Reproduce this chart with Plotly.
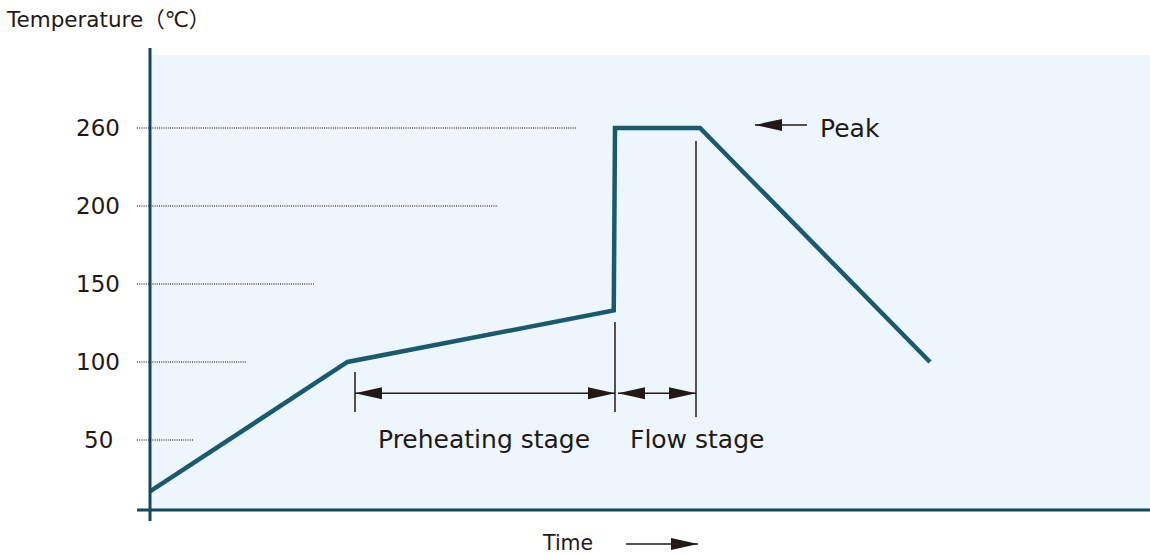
import plotly.graph_objects as go

# ---- data ----
time_s = [0, 79, 185.5, 186, 220, 312]          # time (arbitrary seconds)
temp_c = [17, 100, 133, 260, 260, 100]          # temperature (°C)
tick_temps = [50, 100, 150, 200, 260]
tick_labels = ["50", "100", "150", "200", "260"]
guide_end_time = [17.2, 38.8, 66, 139.2, 170.8]  # end of dotted guide lines (same order as ticks)
preheat_start, preheat_end, flow_end = 82, 186, 218.4
peak_arrow = (242, 262.8)

# schematic axis: above 200 the scale is compressed (260 drawn where 250 would be)
def to_axis(t):
    return t if t <= 200 else 200 + (t - 200) * 50 / 60

CURVE = "#1B5A6D"
AXIS = "#15475A"
INK = "#231815"
FONT = "DejaVu Sans, Noto Sans CJK JP"

fig = go.Figure()
fig.add_trace(go.Scatter(
    x=time_s, y=[to_axis(t) for t in temp_c], mode="lines",
    line=dict(color=CURVE, width=4.5), hoverinfo="skip", showlegend=False,
))

shapes = []
annotations = []

# dotted guides + tick labels
for tv, lab, xe in zip(tick_temps, tick_labels, guide_end_time):
    y = to_axis(tv)
    shapes.append(dict(type="line", xref="paper", yref="y", x0=-0.013, x1=xe / 400,
                       y0=y, y1=y, line=dict(color="#000000", width=1.1, dash="1px,1.2px"), layer="above"))
    annotations.append(dict(text=lab, xref="paper", yref="y", x=-0.052, y=y,
                            xanchor="center", yanchor="middle", showarrow=False,
                            font=dict(size=23, color=INK, family=FONT)))

# axes lines (extend beyond plot area like the drawing)
shapes.append(dict(type="line", xref="paper", yref="paper", x0=0, x1=0, y0=-0.024, y1=1.0154,
                   line=dict(color=AXIS, width=3), layer="above"))
shapes.append(dict(type="line", xref="paper", yref="paper", x0=-0.013, x1=1, y0=0, y1=0,
                   line=dict(color=AXIS, width=3), layer="above"))

# dimension (extension) lines
for xv, ya, yb in [(preheat_start, 68, 93.6), (preheat_end, 68, 125.6), (flow_end, 64.7, 241.7)]:
    shapes.append(dict(type="line", xref="x", yref="y", x0=xv, x1=xv, y0=ya, y1=yb,
                       line=dict(color=INK, width=1.5)))

def head(xref, yref, x, y, direction):
    # filled arrowhead, tip at (x, y), size in pixels
    L, W = 27, 6
    if direction == "left":
        path = f"M0,0 L{L},{-W} L{L},{W} Z"
    else:
        path = f"M0,0 L{-L},{-W} L{-L},{W} Z"
    return dict(type="path", xref=xref, yref=yref, xsizemode="pixel", ysizemode="pixel",
                xanchor=x, yanchor=y, path=path, fillcolor=INK, line=dict(color=INK, width=0))

dim_y = 80
for a, b in [(preheat_start, preheat_end), (preheat_end + 1.2, flow_end)]:
    shapes.append(dict(type="line", xref="x", yref="y", x0=a, x1=b, y0=dim_y, y1=dim_y,
                       line=dict(color=INK, width=1.5)))
    shapes.append(head("x", "y", a, dim_y, "left"))
    shapes.append(head("x", "y", b, dim_y, "right"))

# peak arrow
py = 252
shapes.append(dict(type="line", xref="x", yref="y", x0=peak_arrow[0], x1=peak_arrow[1], y0=py, y1=py,
                   line=dict(color=INK, width=1.5)))
shapes.append(head("x", "y", peak_arrow[0], py, "left"))

# time arrow (below axis)
ty = -0.0747
shapes.append(dict(type="line", xref="paper", yref="paper", x0=0.476, x1=0.548, y0=ty, y1=ty,
                   line=dict(color=INK, width=1.5)))
shapes.append(head("paper", "paper", 0.548, ty, "right"))

# texts
annotations += [
    dict(text="Preheating stage", xref="x", yref="y", x=133.6, y=50, showarrow=False,
         xanchor="center", yanchor="middle", font=dict(size=25, color=INK, family=FONT)),
    dict(text="Flow stage", xref="x", yref="y", x=218.6, y=50, showarrow=False,
         xanchor="center", yanchor="middle", font=dict(size=25, color=INK, family=FONT)),
    dict(text="Peak", xref="x", yref="y", x=267.2, y=250, showarrow=False,
         xanchor="left", yanchor="middle", font=dict(size=25, color=INK, family=FONT)),
    dict(text="Time", xref="paper", yref="paper", x=0.417, y=-0.072, showarrow=False,
         xanchor="center", yanchor="middle", borderpad=0,
         font=dict(size=20.5, color=INK, family=FONT)),
    dict(text="Temperature（℃）", xref="paper", yref="paper", x=-0.146, y=1.077, showarrow=False,
         xanchor="left", yanchor="middle", font=dict(size=21.5, color=INK, family=FONT)),
]

fig.update_layout(
    width=1150, height=554, autosize=False,
    margin=dict(l=150, r=0, t=55, b=44),
    paper_bgcolor="white", plot_bgcolor="#EEF6FD",
    xaxis=dict(range=[0, 400], visible=False, showgrid=False, zeroline=False, fixedrange=True),
    yaxis=dict(range=[5.1, 296.8], showgrid=False, zeroline=False, showticklabels=False,
               ticks="", showline=False, fixedrange=True),
    shapes=shapes, annotations=annotations, showlegend=False,
)

fig.write_html("out.html", config={"displayModeBar": False},
               post_script="document.body.style.margin='0';document.body.style.padding='0';")
